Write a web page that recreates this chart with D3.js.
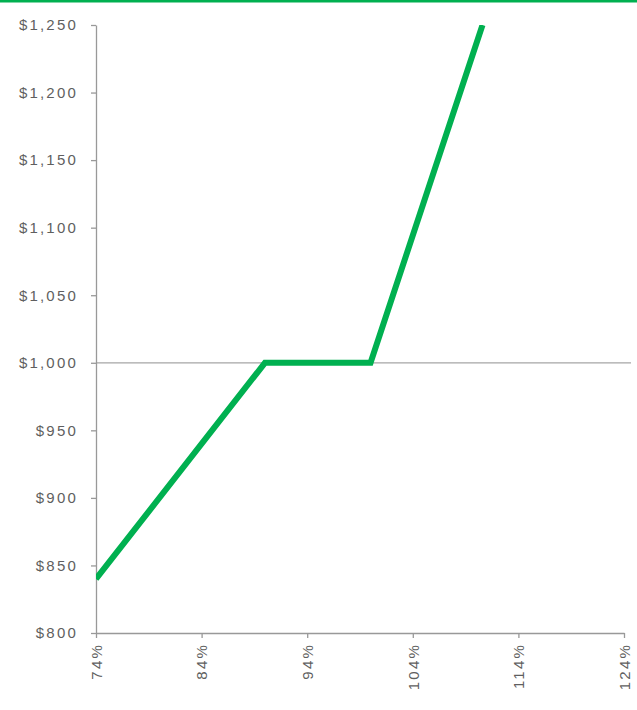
<!DOCTYPE html>
<html>
<head>
<meta charset="utf-8">
<script src="https://cdn.jsdelivr.net/npm/d3@7"></script>
<style>
  html, body { margin: 0; padding: 0; background: #fff; }
  svg { display: block; }
  .tick text { font-family: "Liberation Sans", Arial, sans-serif; font-size: 15px; fill: #5f5f5f; letter-spacing: 2.2px; }
</style>
</head>
<body>
<svg id="chart" width="637" height="710"></svg>
<script>
// Data
const levels = [74, 90, 100, 110.6];          // underlying level at maturity (%)
const payoffs = [840, 1000, 1000, 1250];       // payoff ($)
const xTicks = [74, 84, 94, 104, 114, 124];
const yTicks = [800, 850, 900, 950, 1000, 1050, 1100, 1150, 1200, 1250];
const refLine = [1000];

const W = 637, H = 710;
const margin = { top: 25, right: 13, bottom: 77, left: 96 };
const svg = d3.select("#chart");

svg.append("rect").attr("x", 0).attr("y", 0).attr("width", W).attr("height", 2.5).attr("fill", "#00B050");

const x = d3.scaleLinear().domain([74, 124]).range([margin.left, W - margin.right]);
const y = d3.scaleLinear().domain([800, 1250]).range([H - margin.bottom, margin.top]);

svg.append("defs").append("clipPath").attr("id", "clip")
  .append("rect").attr("x", margin.left).attr("y", margin.top)
  .attr("width", W - margin.right - margin.left).attr("height", H - margin.bottom - margin.top);

// reference gridline
svg.selectAll("line.ref").data(refLine).enter().append("line")
  .attr("class", "ref")
  .attr("x1", margin.left).attr("x2", 631)
  .attr("y1", d => y(d)).attr("y2", d => y(d))
  .attr("stroke", "#a6a6a6").attr("stroke-width", 1.2);

// axes
const yAxis = svg.append("g").attr("transform", `translate(${margin.left},0)`)
  .call(d3.axisLeft(y).tickValues(yTicks).tickSize(5).tickPadding(13).tickSizeOuter(0)
    .tickFormat(d => "$" + d3.format(",")(d)));
const xAxis = svg.append("g").attr("transform", `translate(0,${H - margin.bottom})`)
  .call(d3.axisBottom(x).tickValues(xTicks).tickSize(5).tickSizeOuter(0).tickFormat(d => d + "%"));

[yAxis, xAxis].forEach(a => {
  a.select(".domain").attr("stroke", "#999").attr("stroke-width", 1.3);
  a.selectAll(".tick line").attr("stroke", "#999").attr("stroke-width", 1.3);
});

xAxis.selectAll(".tick text")
  .attr("text-anchor", "end")
  .attr("transform", "rotate(-90)")
  .attr("x", -10).attr("y", 0).attr("dy", "0.35em");

// line
const pts = levels.map((l, i) => [l, payoffs[i]]);
svg.append("path").datum(pts)
  .attr("clip-path", "url(#clip)")
  .attr("fill", "none")
  .attr("stroke", "#00B050")
  .attr("stroke-width", 6)
  .attr("stroke-linejoin", "miter")
  .attr("d", d3.line().x(d => x(d[0])).y(d => y(d[1])));
</script>
</body>
</html>
